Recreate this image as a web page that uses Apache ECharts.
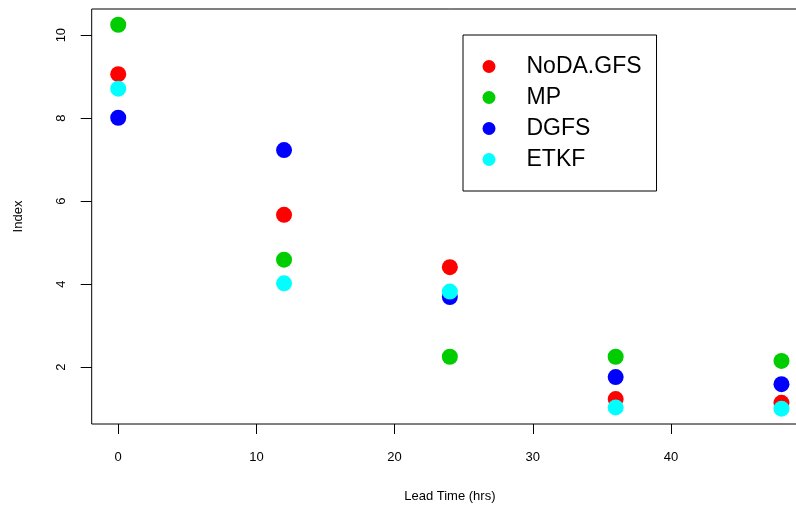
<!DOCTYPE html>
<html>
<head>
<meta charset="utf-8">
<script src="https://cdn.jsdelivr.net/npm/echarts@6/dist/echarts.min.js"></script>
<style>html,body{margin:0;padding:0;background:#fff;overflow:hidden}#c{width:820px;height:508px}</style>
</head>
<body>
<div id="c"></div>
<script>
var leadTimes = [0, 12, 24, 36, 48];
var nodaGFS = [9.06, 5.67, 4.41, 1.23, 1.14];
var mp = [10.25, 4.59, 2.25, 2.25, 2.15];
var dgfs = [8.01, 7.23, 3.69, 1.76, 1.59];
var etkf = [8.71, 4.02, 3.82, 1.03, 1.00];
var xTicks = [0, 10, 20, 30, 40];
var yTicks = [2, 4, 6, 8, 10];
var seriesNames = ['NoDA.GFS', 'MP', 'DGFS', 'ETKF'];
var seriesColors = ['#FF0000', '#00CD00', '#0000FF', '#00FFFF'];
var seriesValues = [nodaGFS, mp, dgfs, etkf];

function pairs(vals) {
  return leadTimes.map(function (t, i) { return [t, vals[i]]; });
}

var font = 'Liberation Sans, Arial, sans-serif';
var chart = echarts.init(document.getElementById('c'));
chart.setOption({
  animation: false,
  backgroundColor: '#ffffff',
  grid: {
    left: 91.7, top: 9, right: 12, bottom: 82,
    show: true, borderColor: '#000', borderWidth: 1, backgroundColor: 'transparent'
  },
  xAxis: {
    type: 'value', min: -1.92, max: 49.92,
    name: 'Lead Time (hrs)', nameLocation: 'middle', nameGap: 66,
    nameTextStyle: { fontFamily: font, fontSize: 13, color: '#000' },
    axisLine: { show: false, onZero: false },
    splitLine: { show: false },
    axisTick: { show: true, inside: false, length: 10, lineStyle: { color: '#000' }, customValues: xTicks },
    axisLabel: { fontFamily: font, fontSize: 13, color: '#000', margin: 27, customValues: xTicks }
  },
  yAxis: {
    type: 'value', min: 0.63, max: 10.63,
    name: 'Index', nameLocation: 'middle', nameGap: 67, nameRotate: 90,
    nameTextStyle: { fontFamily: font, fontSize: 13, color: '#000' },
    axisLine: { show: false, onZero: false },
    splitLine: { show: false },
    axisTick: { show: true, inside: false, length: 11, lineStyle: { color: '#000' }, customValues: yTicks },
    axisLabel: { fontFamily: font, fontSize: 13, color: '#000', margin: 24, rotate: 90, customValues: yTicks }
  },
  legend: {
    orient: 'vertical', left: 463, top: 35,
    padding: [20, 15, 20, 19.5],
    borderColor: '#000', borderWidth: 1,
    itemWidth: 13, itemHeight: 13, itemGap: 8,
    icon: 'circle',
    textStyle: { fontFamily: font, fontSize: 23, color: '#000', lineHeight: 22, padding: [0, 0, 0, 26] },
    data: seriesNames
  },
  series: seriesNames.map(function (n, i) {
    return {
      name: n, type: 'scatter', symbol: 'circle', symbolSize: 16,
      itemStyle: { color: seriesColors[i], opacity: 1 },
      data: pairs(seriesValues[i])
    };
  })
});
</script>
</body>
</html>
